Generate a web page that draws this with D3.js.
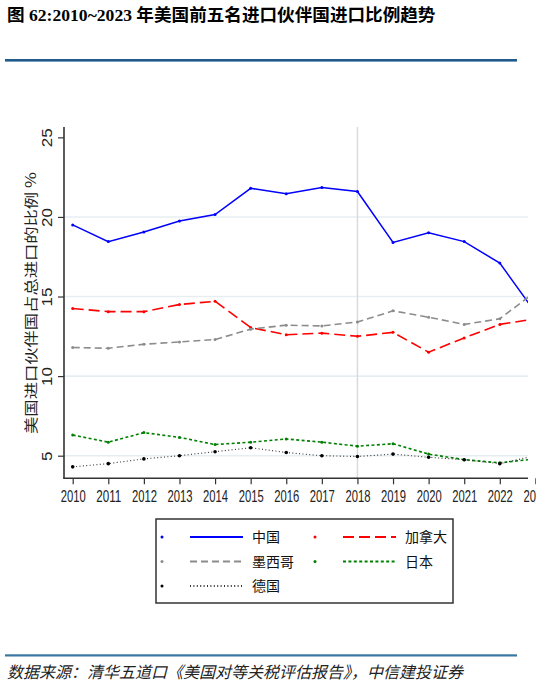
<!DOCTYPE html>
<html>
<head>
<meta charset="utf-8">
<script src="https://cdn.jsdelivr.net/npm/d3@7"></script>
<style>
  body { margin: 0; background: #fff; }
  svg { display: block; }
</style>
</head>
<body>
<script>
// 数据：美国前五名进口伙伴国占总进口比例（%）
var years   = [2010, 2011, 2012, 2013, 2014, 2015, 2016, 2017, 2018, 2019, 2020, 2021, 2022, 2023];
var china   = [19.5, 18.45, 19.05, 19.75, 20.15, 21.8, 21.45, 21.85, 21.6, 18.4, 19.0, 18.45, 17.1, 14.0];
var canada  = [14.25, 14.05, 14.05, 14.5, 14.7, 13.05, 12.6, 12.7, 12.5, 12.75, 11.5, 12.4, 13.25, 13.6];
var mexico  = [11.8, 11.75, 12.0, 12.15, 12.3, 12.95, 13.2, 13.15, 13.4, 14.1, 13.7, 13.25, 13.6, 15.3];
var japan   = [6.3, 5.85, 6.45, 6.15, 5.7, 5.85, 6.05, 5.85, 5.6, 5.75, 5.1, 4.75, 4.55, 4.8];
var germany = [4.3, 4.5, 4.8, 5.0, 5.25, 5.5, 5.2, 5.0, 4.95, 5.1, 4.9, 4.75, 4.5, 5.0];
var yTicks  = [5, 10, 15, 20, 25];
var gridTicks = [5, 10, 15, 20];

var WIDTH = 536, HEIGHT = 686;

var series = [
  {name: '中国',   values: china,   color: '#0000ff', dash: null,    width: 1.5},
  {name: '加拿大', values: canada,  color: '#ff0000', dash: '11,5',  width: 1.6},
  {name: '墨西哥', values: mexico,  color: '#8c8c8c', dash: '7,4',   width: 1.6},
  {name: '日本',   values: japan,   color: '#008000', dash: '3,2.4', width: 1.6},
  {name: '德国',   values: germany, color: '#333333', dash: '1,2.4', width: 1.1}
];

var svg = d3.select('body').append('svg')
  .attr('width', WIDTH)
  .attr('height', HEIGHT);

// 标题
svg.append('text')
  .attr('x', 7).attr('y', 20.5)
  .attr('font-family', '"Liberation Serif", "Noto Sans CJK SC", serif')
  .attr('font-weight', 'bold')
  .attr('font-size', 17.6)
  .attr('fill', '#000')
  .text('图 62:2010~2023 年美国前五名进口伙伴国进口比例趋势');

svg.append('rect')
  .attr('x', 5).attr('y', 59).attr('width', 512).attr('height', 2.6)
  .attr('fill', '#1f5a8a');

// 坐标
var plotLeft = 64, plotRight = 528, plotTop = 127, plotBottom = 478.3;

var x = d3.scaleLinear()
  .domain([2010, 2023])
  .range([72.7, 535.4]);

var y = d3.scaleLinear()
  .domain([3.58, 25.65])
  .range([plotBottom, plotTop]);

svg.append('defs').append('clipPath').attr('id', 'plotclip')
  .append('rect')
  .attr('x', plotLeft).attr('y', plotTop - 5)
  .attr('width', plotRight - plotLeft).attr('height', plotBottom - plotTop + 5);

// 网格线
svg.append('g').selectAll('line')
  .data(gridTicks)
  .enter().append('line')
  .attr('x1', plotLeft).attr('x2', plotRight)
  .attr('y1', function(d){ return y(d); })
  .attr('y2', function(d){ return y(d); })
  .attr('stroke', '#e6eef2')
  .attr('stroke-width', 1.6);

svg.append('line')
  .attr('x1', x(2018)).attr('x2', x(2018))
  .attr('y1', plotTop).attr('y2', plotBottom)
  .attr('stroke', '#d9d9d9')
  .attr('stroke-width', 1.4);

// 折线
var plot = svg.append('g').attr('clip-path', 'url(#plotclip)');

var line = d3.line()
  .x(function(d, i){ return x(years[i]); })
  .y(function(d){ return y(d); });

series.forEach(function(s){
  plot.append('path')
    .datum(s.values)
    .attr('d', line)
    .attr('fill', 'none')
    .attr('stroke', s.color)
    .attr('stroke-width', s.width)
    .attr('stroke-dasharray', s.dash);

  plot.selectAll(null)
    .data(s.values)
    .enter().append('circle')
    .attr('cx', function(d, i){ return x(years[i]); })
    .attr('cy', function(d){ return y(d); })
    .attr('r', s.name === '德国' ? 1.8 : 1.5)
    .attr('fill', s.name === '德国' ? '#000' : s.color);
});

// X 轴
var xAxis = svg.append('g')
  .attr('transform', 'translate(0,' + plotBottom + ')')
  .call(d3.axisBottom(x).tickValues(years).tickFormat(d3.format('d')).tickSize(6).tickSizeOuter(0));

xAxis.select('.domain').remove();
xAxis.append('line')
  .attr('x1', plotLeft - 0.8).attr('x2', plotRight)
  .attr('stroke', '#333').attr('stroke-width', 1.6);
xAxis.selectAll('.tick line').attr('stroke', '#333').attr('stroke-width', 1.2);
xAxis.selectAll('.tick text')
  .attr('font-family', '"Liberation Sans", Arial, sans-serif')
  .attr('font-size', 17)
  .attr('fill', '#222')
  .attr('dy', '0.72em')
  .attr('y', 11)
  .attr('textLength', 25)
  .attr('lengthAdjust', 'spacingAndGlyphs');

// Y 轴
var yAxis = svg.append('g')
  .attr('transform', 'translate(' + plotLeft + ',0)')
  .call(d3.axisLeft(y).tickValues(yTicks).tickSize(6).tickSizeOuter(0));

yAxis.select('.domain').remove();
yAxis.append('line')
  .attr('y1', plotTop).attr('y2', plotBottom)
  .attr('stroke', '#333').attr('stroke-width', 1.6);
yAxis.selectAll('.tick line').attr('stroke', '#333').attr('stroke-width', 1.2);
yAxis.selectAll('.tick text').remove();
yAxis.selectAll('.tick').append('g')
  .attr('transform', 'translate(-17,0) scale(0.82,1) rotate(-90)')
  .append('text')
  .attr('text-anchor', 'middle')
  .attr('dy', '0.36em')
  .attr('font-family', '"Liberation Sans", Arial, sans-serif')
  .attr('font-size', 17)
  .attr('fill', '#222')
  .text(function(d){ return d; });

svg.append('g')
  .attr('transform', 'translate(31,' + ((168 + 438) / 2) + ') scale(0.8,1) rotate(-90)')
  .append('text')
  .attr('text-anchor', 'middle')
  .attr('dy', '0.36em')
  .attr('font-family', '"Noto Sans CJK SC", "Liberation Sans", sans-serif')
  .attr('font-size', 17.3)
  .attr('fill', '#222')
  .text('美国进口伙伴国占总进口的比例 %');

// 图例
var legend = svg.append('g');
legend.append('rect')
  .attr('x', 156).attr('y', 519).attr('width', 297).attr('height', 84)
  .attr('fill', '#fff')
  .attr('stroke', '#333')
  .attr('stroke-width', 1.5);

var legendCols = [162, 315];
var legendRows = [537, 561.5, 586];

series.forEach(function(s, i){
  var cx = legendCols[i % 2];
  var cy = legendRows[Math.floor(i / 2)];
  legend.append('circle')
    .attr('cx', cx).attr('cy', cy).attr('r', 1.5)
    .attr('fill', s.name === '德国' ? '#000' : s.color);
  legend.append('line')
    .attr('x1', cx + 28).attr('x2', cx + 81)
    .attr('y1', cy).attr('y2', cy)
    .attr('stroke', s.color)
    .attr('stroke-width', 2)
    .attr('stroke-dasharray', s.dash);
  legend.append('text')
    .attr('x', cx + 90).attr('y', cy)
    .attr('dy', '0.36em')
    .attr('font-family', '"Noto Sans CJK SC", sans-serif')
    .attr('font-size', 14)
    .attr('fill', '#111')
    .text(s.name);
});

// 数据来源
svg.append('rect')
  .attr('x', 5).attr('y', 654.3).attr('width', 512).attr('height', 2.2)
  .attr('fill', '#3b77a3');

svg.append('text')
  .attr('x', 7).attr('y', 678)
  .attr('font-family', '"Noto Sans CJK SC", sans-serif')
  .attr('font-style', 'italic')
  .attr('font-size', 16)
  .attr('fill', '#222')
  .text('数据来源：清华五道口《美国对等关税评估报告》，中信建投证券');
</script>
</body>
</html>
